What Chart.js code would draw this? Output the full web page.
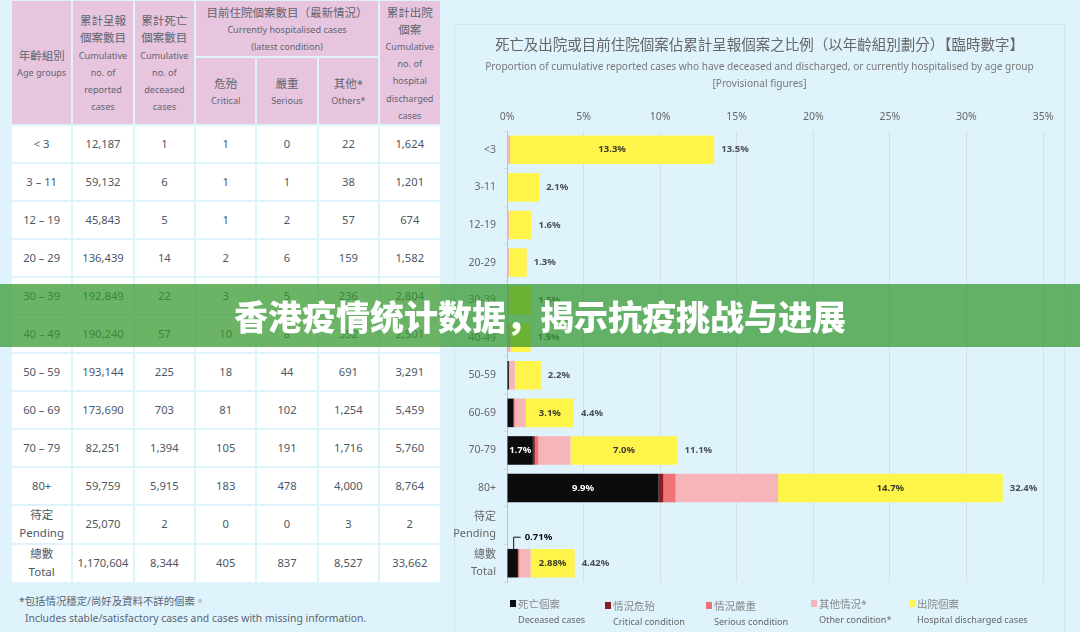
<!DOCTYPE html>
<html>
<head>
<meta charset="utf-8">
<script src="https://cdn.jsdelivr.net/npm/chart.js@4"></script>
<style>
	html, body { margin: 0; padding: 0; background: #dff3fd; }
	body { width: 1080px; height: 632px; overflow: hidden; position: relative; font-family: "Noto Sans", "Noto Sans CJK TC", sans-serif; color: #4d5866; }
	#panel { position: absolute; left: 454px; top: 24px; width: 611px; height: 620px; border: 1px solid #d3e5ef; box-sizing: border-box; }
	#chart { position: absolute; left: 0; top: 0; }
	#stats { position: absolute; left: 10px; top: -1.4px; border-collapse: separate; border-spacing: 2.5px 2.35px; table-layout: fixed; width: 431.5px; }
	#stats td { text-align: center; vertical-align: middle; padding: 0 0 2px 0; background: #fff; font-size: 11.2px; overflow: hidden; }
	#stats td.h { background: #e8c5de; font-size: 9.1px; line-height: 17.2px; color: #5d6570; padding: 3px 0 0 0; }
	#stats td.h b { font-weight: 400; font-size: 11.5px; display: block; }
	#stats td.two { font-size: 11.5px; line-height: 17.5px; }
	.t { position: absolute; white-space: nowrap; text-align: center; }
	.note { position: absolute; white-space: nowrap; font-size: 10.4px; color: #5a6470; }
	.leg { position: absolute; white-space: nowrap; font-size: 9.1px; line-height: 15px; color: #666; }
	.leg i { position: absolute; left: -8px; top: 3px; width: 6px; height: 7px; }
	.leg b { font-weight: 400; font-size: 10.5px; display: block; color: #888; }
	#banner { position: absolute; left: 0; top: 284px; width: 1080px; height: 63px; background: rgba(50,151,43,.72); color: #fff; font: 900 34px/63px "Noto Sans CJK SC", sans-serif; text-align: center; }
</style>
</head>
<body>
<div id="panel"></div>
<table id="stats"></table>
<div class="note" style="left:19px;top:593px">*包括情况穩定/尚好及資料不詳的個案。</div>
<div class="note" style="left:25px;top:611px">Includes stable/satisfactory cases and cases with missing information.</div>

<canvas id="chart" width="1080" height="632"></canvas>

<div class="t" style="left:454px;width:611px;top:34px;font:400 14.5px/20px 'Noto Sans CJK TC';color:#666">死亡及出院或目前住院個案佔累計呈報個案之比例（以年齡組別劃分）【臨時數字】</div>
<div class="t" style="left:454px;width:611px;top:58px;font:400 10.1px/17px 'Noto Sans';color:#777">Proportion of cumulative reported cases who have deceased and discharged, or currently hospitalised by age group<br>[Provisional figures]</div>

<div class="leg" style="left:518px;top:597px"><i style="background:#0c0c0c"></i><b>死亡個案</b>Deceased cases</div>
<div class="leg" style="left:613px;top:599px"><i style="background:#8e1c24"></i><b>情況危殆</b>Critical condition</div>
<div class="leg" style="left:714px;top:599px"><i style="background:#ef7374"></i><b>情況嚴重</b>Serious condition</div>
<div class="leg" style="left:819px;top:597px"><i style="background:#f6b5b8"></i><b>其他情況*</b>Other condition*</div>
<div class="leg" style="left:917px;top:597px"><i style="background:#fff54a"></i><b>出院個案</b>Hospital discharged cases</div>

<div id="banner">香港疫情统计数据，揭示抗疫挑战与进展</div>

<script>
// table columns
const ageRows = ['< 3','3 – 11','12 – 19','20 – 29','30 – 39','40 – 49','50 – 59','60 – 69','70 – 79','80+','待定<br>Pending','總數<br>Total'];
const reportedRows = ['12,187','59,132','45,843','136,439','192,849','190,240','193,144','173,690','82,251','59,759','25,070','1,170,604'];
const deceasedRows = ['1','6','5','14','22','57','225','703','1,394','5,915','2','8,344'];
const criticalRows = ['1','1','1','2','3','10','18','81','105','183','0','405'];
const seriousRows = ['0','1','2','6','5','8','44','102','191','478','0','837'];
const othersRows = ['22','38','57','159','236','352','691','1,254','1,716','4,000','3','8,527'];
const dischargedRows = ['1,624','1,201','674','1,582','2,804','2,501','3,291','5,459','5,760','8,764','2','33,662'];

// chart data, percent of reported cases
const categories = ['<3','3-11','12-19','20-29','30-39','40-49','50-59','60-69','70-79','80+',['待定','Pending'],['總數','Total']];
const deceasedPct = [0,0,0,0,0,0.03,0.12,0.40,1.69,9.90,0,0.71];
const criticalPct = [0,0,0,0,0,0,0.01,0.05,0.13,0.31,0,0.03];
const seriousPct = [0,0,0,0,0,0,0.02,0.06,0.23,0.80,0,0.07];
const otherPct = [0.20,0.07,0.13,0.13,0.13,0.20,0.36,0.72,2.09,6.69,0,0.73];
const dischargedPct = [13.33,2.03,1.47,1.16,1.45,1.31,1.70,3.14,7.00,14.67,0,2.88];
const deceasedLabels = ['','','','','','','','','1.7%','9.9%','',''];
const dischargedLabels = ['13.3%','','','','','','','3.1%','7.0%','14.7%','','2.88%'];
const totalLabels = ['13.5%','2.1%','1.6%','1.3%','1.5%','1.5%','2.2%','4.4%','11.1%','32.4%','','4.42%'];
const xTicks = ['0%','5%','10%','15%','20%','25%','30%','35%'];

(function(){
	const head = '<colgroup>' + '<col>'.repeat(7) + '</colgroup>'
		+ '<tr style="height:55px"><td class="h" rowspan="2"><b>年齡組別</b>Age groups</td>'
		+ '<td class="h" rowspan="2"><b>累計呈報<br>個案數目</b>Cumulative<br>no. of<br>reported<br>cases</td>'
		+ '<td class="h" rowspan="2"><b>累計死亡<br>個案數目</b>Cumulative<br>no. of<br>deceased<br>cases</td>'
		+ '<td class="h" colspan="3"><b>目前住院個案數目（最新情況）</b>Currently hospitalised cases<br>(latest condition)</td>'
		+ '<td class="h" rowspan="2"><b>累計出院<br>個案</b>Cumulative<br>no. of<br>hospital<br>discharged<br>cases</td></tr>'
		+ '<tr style="height:66px"><td class="h"><b>危殆</b>Critical</td><td class="h"><b>嚴重</b>Serious</td><td class="h"><b>其他*</b>Others*</td></tr>';
	let body = '';
	ageRows.forEach(function(age, i){
		const cls = age.indexOf('<br>') > -1 ? ' class="two"' : '';
		body += '<tr style="height:36px"><td' + cls + '>' + age + '</td><td>' + reportedRows[i] + '</td><td>' + deceasedRows[i] + '</td><td>'
			+ criticalRows[i] + '</td><td>' + seriousRows[i] + '</td><td>' + othersRows[i] + '</td><td>' + dischargedRows[i] + '</td></tr>';
	});
	document.getElementById('stats').innerHTML = head + body;
})();

// segment and total labels, drawn from the bar elements
const barLabels = {
	id: 'barLabels',
	afterDatasetsDraw(chart){
		const ctx = chart.ctx;
		const deadBars = chart.getDatasetMeta(0).data;
		const homeBars = chart.getDatasetMeta(4).data;
		ctx.save();
		ctx.textBaseline = 'middle';
		ctx.font = '700 9.5px "Noto Sans"';
		categories.forEach(function(c, i){
			ctx.textAlign = 'center';
			if(deceasedLabels[i]){
				ctx.fillStyle = '#fff';
				ctx.fillText(deceasedLabels[i], (deadBars[i].x + deadBars[i].base) / 2, deadBars[i].y);
			}
			if(dischargedLabels[i]){
				ctx.fillStyle = '#3c3c28';
				ctx.fillText(dischargedLabels[i], (homeBars[i].x + homeBars[i].base) / 2, homeBars[i].y);
			}
			if(totalLabels[i]){
				ctx.textAlign = 'left';
				ctx.fillStyle = '#4a4f55';
				ctx.fillText(totalLabels[i], homeBars[i].x + 7, homeBars[i].y);
			}
		});
		// leader for the overall death rate
		const last = categories.length - 1;
		const lx = (deadBars[last].x + deadBars[last].base) / 2 + 1;
		const top = deadBars[last].y - 14;
		ctx.strokeStyle = '#111';
		ctx.lineWidth = 1;
		ctx.beginPath();
		ctx.moveTo(lx, top);
		ctx.lineTo(lx, top - 12);
		ctx.lineTo(lx + 7, top - 12);
		ctx.stroke();
		ctx.fillStyle = '#111';
		ctx.textAlign = 'left';
		ctx.fillText(deceasedPct[last].toFixed(2) + '%', lx + 11, top - 12);
		ctx.restore();
	}
};

function series(label, data, color){
	return { label: label, data: data, backgroundColor: color, stack: 's', barPercentage: 0.76, categoryPercentage: 1 };
}

new Chart(document.getElementById('chart').getContext('2d'), {
	type: 'bar',
	data: {
		labels: categories,
		datasets: [
			series('Deceased cases', deceasedPct, '#0c0c0c'),
			series('Critical condition', criticalPct, '#8e1c24'),
			series('Serious condition', seriousPct, '#ef7374'),
			series('Other condition*', otherPct, '#f6b5b8'),
			series('Hospital discharged cases', dischargedPct, '#fff54a')
		]
	},
	options: {
		indexAxis: 'y',
		responsive: false,
		animation: false,
		devicePixelRatio: 1,
		layout: { padding: { top: 100, right: 37, bottom: 50, left: 0 } },
		plugins: { legend: { display: false }, title: { display: false }, tooltip: { enabled: false } },
		scales: {
			x: {
				position: 'top',
				stacked: true,
				min: 0,
				max: 35,
				afterFit(s){ s.height = 31; },
				afterBuildTicks(s){ s.ticks = xTicks.map(function(t, i){ return { value: i * 5 }; }); },
				ticks: {
					padding: 8,
					maxRotation: 0,
					color: '#666',
					font: { family: 'Noto Sans', size: 10.5 },
					callback(v){ return xTicks[v / 5]; }
				},
				grid: { color: '#d4dfe6', drawTicks: false },
				border: { display: false }
			},
			y: {
				stacked: true,
				afterFit(s){ s.width = 507; },
				ticks: {
					padding: 7,
					color: '#666',
					autoSkip: false,
					font(ctx){
						const twoLine = ctx.index >= 10;
						return { family: '"Noto Sans", "Noto Sans CJK TC"', size: twoLine ? 11 : 10.5, lineHeight: twoLine ? 1.55 : 1.2 };
					}
				},
				grid: { drawOnChartArea: false, tickLength: 4, color: '#cfd8de' },
				border: { color: '#b9c3ca' }
			}
		}
	},
	plugins: [barLabels]
});
</script>
</body>
</html>
